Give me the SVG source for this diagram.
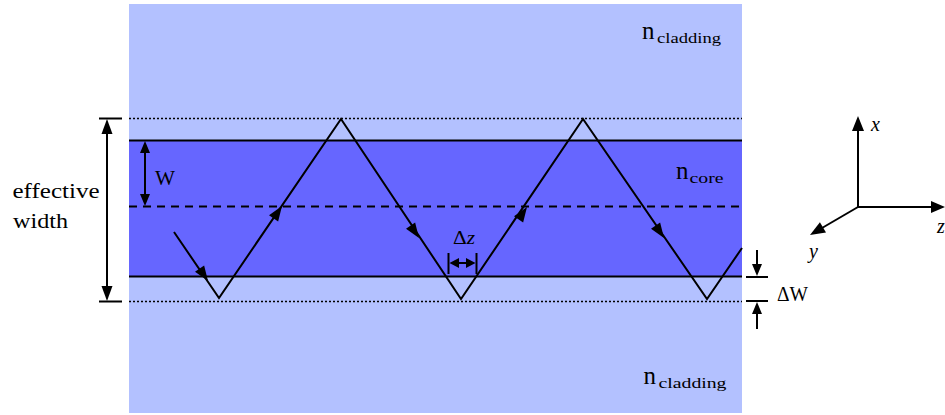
<svg xmlns="http://www.w3.org/2000/svg" width="945" height="415" viewBox="0 0 945 415">
<defs>
<style>
.ln{stroke:#000;stroke-width:2;fill:none}
.ah{fill:#000;stroke:none}
text{font-family:'Liberation Serif','Times New Roman',Times,serif;fill:#000}
</style>
</defs>
<rect width="945" height="415" fill="#fff"/>
<g id="cladding">
<rect x="129" y="4" width="613" height="409" fill="#B3C1FF"/>
</g>
<g id="core">
<rect x="129" y="140" width="613" height="137" fill="#6666FF"/>
<line x1="129" y1="140.5" x2="742" y2="140.5" class="ln"/>
<line x1="129" y1="276.5" x2="742" y2="276.5" class="ln"/>
<line x1="129" y1="206.5" x2="742" y2="206.5" stroke="#000" stroke-width="2" stroke-dasharray="8,6"/>
<line x1="129" y1="118.5" x2="742" y2="118.5" stroke="#000" stroke-width="1.3" stroke-dasharray="2,2"/>
<line x1="129" y1="301.5" x2="742" y2="301.5" stroke="#000" stroke-width="1.3" stroke-dasharray="2,2"/>
</g>
<g id="ray">
<polyline points="174,232 219,298 341,119 461,299 583,119 707,299 742,248" class="ln"/>
<polygon class="ah" points="208,281 195.0,271.7 204.1,265.5"/>
<polygon class="ah" points="282,206 278.1,221.5 269.0,215.3"/>
<polygon class="ah" points="419,238 406.0,228.7 415.1,222.5"/>
<polygon class="ah" points="527,207 523.1,222.5 514.0,216.3"/>
<polygon class="ah" points="664,238 651.0,228.7 660.1,222.5"/>
</g>
<g id="effective-width">
<line x1="99" y1="118.5" x2="122" y2="118.5" class="ln"/>
<line x1="99" y1="301.5" x2="122" y2="301.5" class="ln"/>
<line x1="107" y1="125" x2="107" y2="295" class="ln"/>
<polygon class="ah" points="107,119 101.5,134 112.5,134"/>
<polygon class="ah" points="107,301 101.5,286 112.5,286"/>
<text x="12.5" y="198" font-size="21" textLength="87" lengthAdjust="spacingAndGlyphs">effective</text>
<text x="13" y="228" font-size="21" textLength="55" lengthAdjust="spacingAndGlyphs">width</text>
</g>
<g id="w-label">
<line x1="145" y1="146" x2="145" y2="200" class="ln"/>
<polygon class="ah" points="145,141 140,153 150,153"/>
<polygon class="ah" points="145,206 140,194 150,194"/>
<text x="155" y="185" font-size="21" textLength="20" lengthAdjust="spacingAndGlyphs">W</text>
</g>
<g id="dz-label">
<line x1="448.5" y1="253" x2="448.5" y2="274" class="ln"/>
<line x1="476.5" y1="253" x2="476.5" y2="274" class="ln"/>
<line x1="455" y1="263" x2="470" y2="263" class="ln"/>
<polygon class="ah" points="449.5,263 459,258 459,268"/>
<polygon class="ah" points="475.5,263 466,258 466,268"/>
<text x="453" y="243.5" font-size="18" textLength="22" lengthAdjust="spacingAndGlyphs">Δ<tspan font-style="italic">z</tspan></text>
</g>
<g id="dw-label">
<line x1="746" y1="277" x2="768" y2="277" class="ln"/>
<line x1="746" y1="301" x2="768" y2="301" class="ln"/>
<line x1="757" y1="250" x2="757" y2="268" class="ln"/>
<line x1="757" y1="310" x2="757" y2="329" class="ln"/>
<polygon class="ah" points="757,276 752,264 762,264"/>
<polygon class="ah" points="757,302 752,314 762,314"/>
<text x="777" y="300.5" font-size="21" textLength="31" lengthAdjust="spacingAndGlyphs">ΔW</text>
</g>
<g id="labels">
<text x="642" y="38.5" font-size="25">n</text>
<text x="657" y="42.5" font-size="15" textLength="64" lengthAdjust="spacingAndGlyphs">cladding</text>
<text x="676" y="178.5" font-size="25">n</text>
<text x="689.5" y="182.7" font-size="15" textLength="34" lengthAdjust="spacingAndGlyphs">core</text>
<text x="643.5" y="383.5" font-size="25">n</text>
<text x="658.5" y="388" font-size="15" textLength="68" lengthAdjust="spacingAndGlyphs">cladding</text>
</g>
<g id="axes">
<line x1="858" y1="208" x2="858" y2="128" class="ln"/>
<line x1="857" y1="207" x2="935" y2="207" class="ln"/>
<line x1="858" y1="207" x2="822" y2="228" class="ln"/>
<polygon class="ah" points="858,116 852,131 864,131"/>
<polygon class="ah" points="945,207 931,201 931,213"/>
<polygon class="ah" points="810,235 826.0,232.6 819.9,222.3"/>
<text x="871" y="130.5" font-size="20" font-style="italic">x</text>
<text x="937" y="233" font-size="20" font-style="italic">z</text>
<text x="809" y="258" font-size="20" font-style="italic">y</text>
</g>
</svg>
